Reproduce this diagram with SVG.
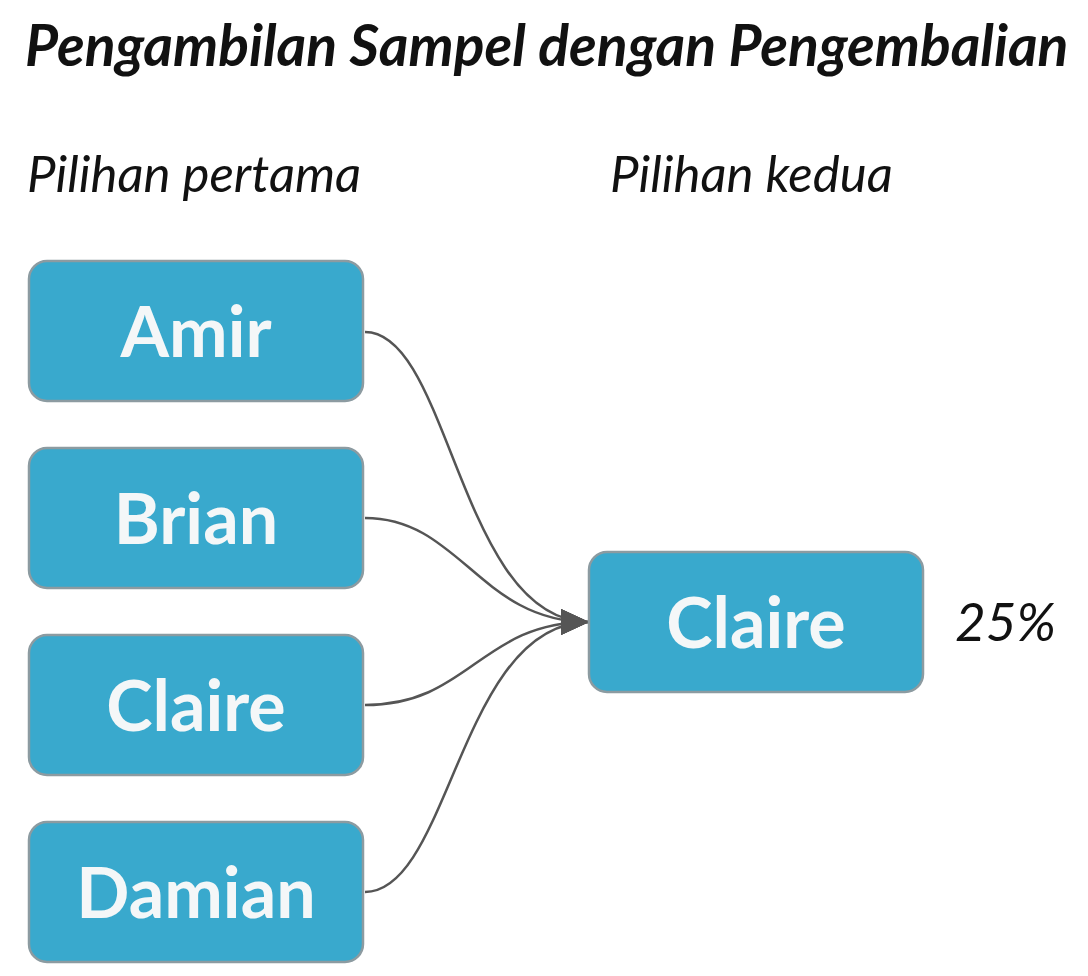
<svg xmlns="http://www.w3.org/2000/svg" width="1088" height="976" viewBox="0 0 1088 976">
<style>
.node rect{fill:#39a9cd;stroke:#8c9ba1;stroke-width:2.5}
.node text{font-family:Lato,"Open Sans","Liberation Sans",sans-serif;font-weight:bold;font-size:70px;fill:#f4f7f8;text-anchor:middle}
.lbl{font-family:Lato,"Open Sans","Liberation Sans",sans-serif;font-style:italic;fill:#111}
.edge{fill:none;stroke:#555;stroke-width:2.5}
</style>
<defs>
<marker id="ah" markerUnits="userSpaceOnUse" markerWidth="30" markerHeight="30" refX="28" refY="13" orient="auto">
<path d="M0,0 L28,13 L0,26 Z" fill="#555"/>
</marker>
</defs>
<rect width="1088" height="976" fill="#fff"/>
<text class="lbl" x="25" y="66" style="font-weight:bold;font-size:57px">Pengambilan Sampel dengan Pengembalian</text>
<text class="lbl" x="27" y="192" style="font-size:51px">Pilihan pertama</text>
<text class="lbl" x="610" y="192" style="font-size:51px">Pilihan kedua</text>
<text class="lbl" x="955" y="641" style="font-size:53px">25%</text>
<g id="connectors">
<path class="edge" d="M365,332 C450,332 460,622 589,622" marker-end="url(#ah)"/>
<path class="edge" d="M365,518 C460,518 480,622 589,622" marker-end="url(#ah)"/>
<path class="edge" d="M365,705 C470,705 480,622 589,622" marker-end="url(#ah)"/>
<path class="edge" d="M365,892 C450,892 460,622 589,622" marker-end="url(#ah)"/>
</g>
<g id="amir" class="node"><rect x="29" y="261" width="334" height="140" rx="18"/><text x="196" y="357">Amir</text></g>
<g id="brian" class="node"><rect x="29" y="448" width="334" height="140" rx="18"/><text x="196" y="544">Brian</text></g>
<g id="claire1" class="node"><rect x="29" y="635" width="334" height="140" rx="18"/><text x="196" y="731">Claire</text></g>
<g id="damian" class="node"><rect x="29" y="822" width="334" height="140" rx="18"/><text x="196" y="918">Damian</text></g>
<g id="claire2" class="node"><rect x="589" y="552" width="334" height="140" rx="18"/><text x="756" y="648">Claire</text></g>
</svg>
